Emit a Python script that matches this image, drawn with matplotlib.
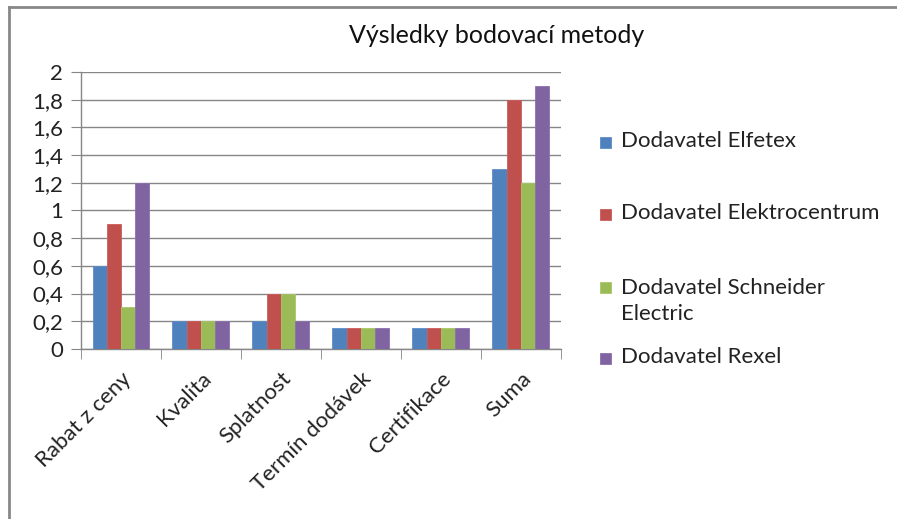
import numpy as np
import matplotlib.pyplot as plt
from matplotlib.patches import Rectangle
from matplotlib.lines import Line2D

categories = ["Rabat z ceny", "Kvalita", "Splatnost", "Termín dodávek", "Certifikace", "Suma"]
series = ["Dodavatel Elfetex", "Dodavatel Elektrocentrum",
          "Dodavatel Schneider\nElectric", "Dodavatel Rexel"]
elfetex = [0.6, 0.2, 0.2, 0.15, 0.15, 1.3]
elektrocentrum = [0.9, 0.2, 0.4, 0.15, 0.15, 1.8]
schneider = [0.3, 0.2, 0.4, 0.15, 0.15, 1.2]
rexel = [1.2, 0.2, 0.2, 0.15, 0.15, 1.9]
yticks = [0, 0.2, 0.4, 0.6, 0.8, 1, 1.2, 1.4, 1.6, 1.8, 2]
ytick_labels = ["0", "0,2", "0,4", "0,6", "0,8", "1", "1,2", "1,4", "1,6", "1,8", "2"]

colors = ["#4F81BD", "#C0504D", "#9BBB59", "#8064A2"]
edges = ["#5B8DC9", "#CC5C59", "#A7C765", "#8C70AE"]

plt.rcParams['font.family'] = ['Lato', 'DejaVu Sans']

fig = plt.figure(figsize=(8.97, 5.19), dpi=100)
ax = fig.add_axes([0.0903, 0.3276, 0.535, 0.5337])

x = np.arange(len(categories))
bw = 0.178
values = [elfetex, elektrocentrum, schneider, rexel]
for i, vals in enumerate(values):
    ax.bar(x + (i - 1.5) * bw, vals, bw, color=colors[i], edgecolor=edges[i],
           linewidth=0.6, zorder=3)

ax.set_xlim(-0.5, len(categories) - 0.5)
ax.set_ylim(0, 2)
ax.set_yticks(yticks)
ax.set_yticklabels(ytick_labels, fontsize=16, color="#222222")
ax.yaxis.grid(True, color="#868686", linewidth=1, zorder=0)
ax.tick_params(axis='y', length=7, color="#868686", pad=6)

ax.set_xticks(x)
ax.set_xticklabels(categories, rotation=45, ha='right', rotation_mode='anchor',
                   fontsize=16, color="#222222")
ax.tick_params(axis='x', which='major', length=0, pad=14)
ax.set_xticks(np.arange(-0.5, len(categories)), minor=True)
ax.tick_params(axis='x', which='minor', length=7, color="#868686")

for s in ["top", "right"]:
    ax.spines[s].set_visible(False)
for s in ["left", "bottom"]:
    ax.spines[s].set_color("#868686")
    ax.spines[s].set_linewidth(1)

fig.text(0.554, 0.932, "Výsledky bodovací metody", ha='center', va='center',
         fontsize=18, color="#111111")

# legend drawn by hand to keep Excel spacing
leg_y = [0.726, 0.587, 0.447, 0.310]
for i, lab in enumerate(series):
    fig.patches.append(Rectangle((0.669, leg_y[i] - 0.011), 0.0125, 0.0216,
                                 transform=fig.transFigure, facecolor=colors[i],
                                 edgecolor=edges[i], linewidth=0.6))
    if "\n" in lab:
        fig.text(0.692, 0.464, lab, ha='left', va='top',
                 fontsize=16, color="#222222", linespacing=1.35)
    else:
        fig.text(0.692, leg_y[i] + 0.002, lab, ha='left', va='center',
                 fontsize=16, color="#222222")

# outer frame (top and left edges of the chart box)
fig.add_artist(Line2D([0.0095, 1.0], [0.9865, 0.9865], transform=fig.transFigure,
                      color="#878787", linewidth=2))
fig.add_artist(Line2D([0.0095, 0.0095], [0.0, 0.9865], transform=fig.transFigure,
                      color="#878787", linewidth=2))

fig.savefig("out.png", dpi=100)
